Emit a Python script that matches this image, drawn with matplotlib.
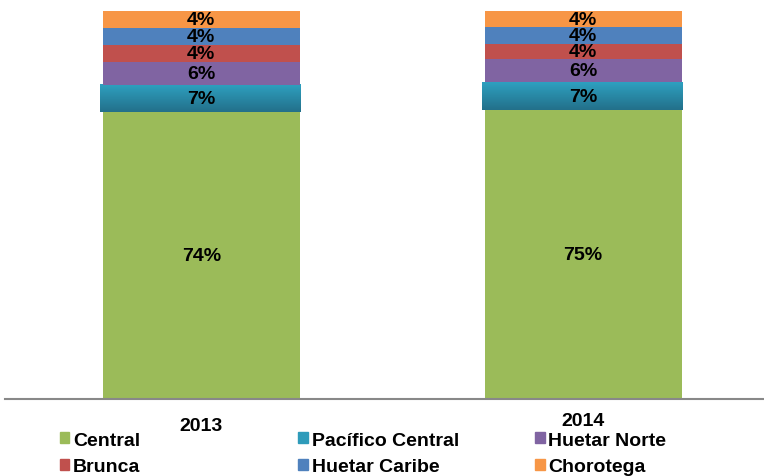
import matplotlib.pyplot as plt
import numpy as np
from matplotlib.patches import Patch
from matplotlib.colors import LinearSegmentedColormap
from matplotlib.transforms import ScaledTranslation

years = ['2013', '2014']
regions = ['Central', 'Pacífico Central', 'Huetar Norte', 'Brunca', 'Huetar Caribe', 'Chorotega']
central = [74.0, 74.4]
pacifico = [7.0, 7.2]
huetar_norte = [5.9, 5.9]
brunca = [4.4, 4.1]
huetar_caribe = [4.4, 4.2]
chorotega = [4.3, 4.2]
labels_2013 = ['74%', '7%', '6%', '4%', '4%', '4%']
labels_2014 = ['75%', '7%', '6%', '4%', '4%', '4%']
colors = ['#9BBB59', '#2E9BBA', '#8064A2', '#C0504D', '#4F81BD', '#F79646']

series = [central, pacifico, huetar_norte, brunca, huetar_caribe, chorotega]
labels = [[labels_2013[i], labels_2014[i]] for i in range(len(regions))]

plt.rcParams['font.family'] = ['Liberation Sans', 'DejaVu Sans']
fig = plt.figure(figsize=(7.64, 4.77), dpi=100)
ax = fig.add_axes([0.007, 0.161, 0.993, 0.814])

x = np.arange(len(years))
width = 0.516
bottom = np.zeros(len(years))
cmap = LinearSegmentedColormap.from_list('g', ['#2EA0C0', '#23708A'])
grad = np.linspace(0, 1, 50).reshape(-1, 1)
for i, vals in enumerate(series):
    bars = ax.bar(x, vals, width, bottom=bottom, color=colors[i], zorder=2)
    if regions[i] == 'Pacífico Central':
        # gradient look of the original
        for b in bars:
            b.set_visible(False)
            x0 = b.get_x() - 0.006
            ax.imshow(grad, cmap=cmap, aspect='auto', zorder=2,
                      extent=(x0, x0 + b.get_width() + 0.008, b.get_y(), b.get_y() + b.get_height()))
    for j, b in enumerate(bars):
        ax.text(b.get_x() + b.get_width() / 2, b.get_y() + b.get_height() / 2, labels[i][j],
                ha='center', va='center', fontsize=14, fontweight='bold', zorder=3)
    bottom += np.array(vals)

ax.set_xlim(-0.513, 1.474)
ax.set_ylim(0, 100)
ax.set_xticks(x)
ax.set_xticklabels(years, fontsize=14, fontweight='bold')
ax.tick_params(axis='x', length=0, pad=13)
t = ax.get_xticklabels()[1]
t.set_transform(t.get_transform() + ScaledTranslation(0, 0.05, fig.dpi_scale_trans))
ax.set_yticks([])
for s in ['top', 'right', 'left']:
    ax.spines[s].set_visible(False)
ax.spines['bottom'].set_color('#888888')
ax.spines['bottom'].set_linewidth(1.5)

# legend: three columns, two rows
col_x = [0.078, 0.390, 0.700]
for c in range(3):
    idx = [c, c + 3]
    fig.legend([Patch(color=colors[k]) for k in idx], [regions[k] for k in idx],
               loc='upper left', bbox_to_anchor=(col_x[c], 0.093), frameon=False,
               prop={'size': 14, 'weight': 'bold'}, borderpad=0, borderaxespad=0,
               handlelength=0.5, handleheight=0.5, handletextpad=0.2, labelspacing=0.5)

plt.savefig('out.png', dpi=100)
